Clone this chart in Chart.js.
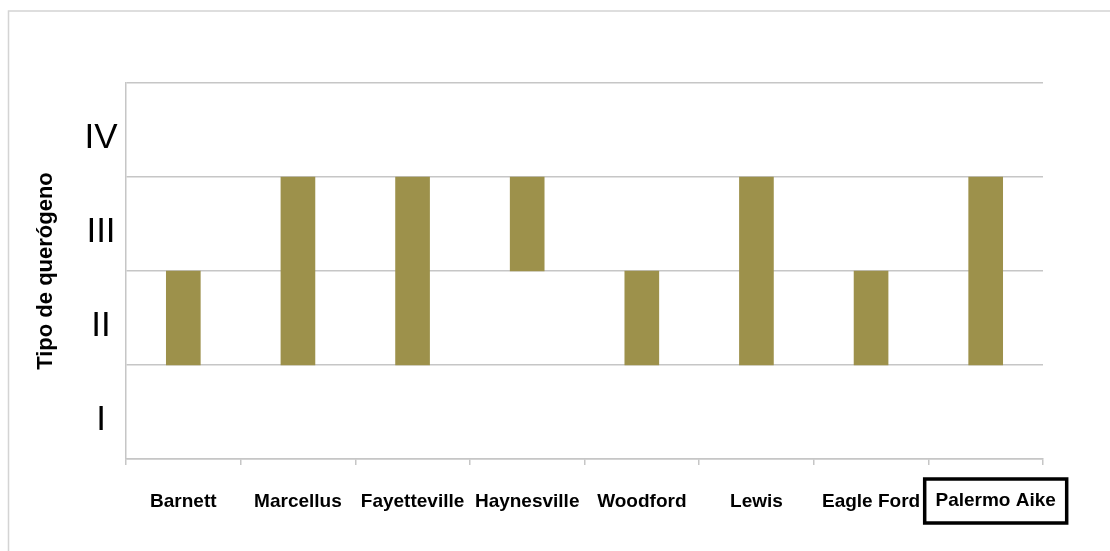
<!DOCTYPE html>
<html>
<head>
<meta charset="utf-8">
<script src="https://cdn.jsdelivr.net/npm/chart.js@4.4.0/dist/chart.umd.min.js"></script>
<style>
  html, body { margin: 0; padding: 0; background: #fff; }
  canvas { display: block; }
</style>
</head>
<body>
<canvas id="chart" width="1110" height="551"></canvas>
<script>
// Data: each bar spans a kerogen type range
const categories = ["Barnett", "Marcellus", "Fayetteville", "Haynesville", "Woodford", "Lewis", "Eagle Ford", "Palermo Aike"];
const rangeLow = [1, 1, 1, 2, 1, 1, 1, 1];
const rangeHigh = [2, 3, 3, 3, 2, 3, 2, 3];
const yTickLabels = ["I", "II", "III", "IV"];
const yTitle = "Tipo de querógeno";
const highlighted = "Palermo Aike";

const FONT = '"Liberation Sans", Arial, sans-serif';
const GRID = "#c6c6c6";

// Frame, roman numeral labels (centred in each band) and the boxed category
const decorations = {
  id: "decorations",
  beforeDraw(chart) {
    const ctx = chart.ctx;
    ctx.save();
    ctx.strokeStyle = "#d4d4d4";
    ctx.lineWidth = 1.5;
    ctx.beginPath();
    ctx.moveTo(8.5, chart.height);
    ctx.lineTo(8.5, 11);
    ctx.lineTo(chart.width, 11);
    ctx.stroke();
    ctx.restore();
  },
  afterDraw(chart) {
    const { ctx, chartArea, scales: { x, y } } = chart;
    ctx.save();
    ctx.fillStyle = "#000";
    ctx.textAlign = "center";
    ctx.textBaseline = "middle";
    ctx.font = "35px " + FONT;
    yTickLabels.forEach((t, i) => {
      ctx.fillText(t, 101, y.getPixelForValue(i + 0.5) + 8);
    });

    const idx = categories.indexOf(highlighted);
    const cx = x.getPixelForValue(idx) + 10;
    const cy = chartArea.bottom + 42;
    ctx.font = "bold 19px " + FONT;
    ctx.fillText(highlighted, cx, cy);
    ctx.lineWidth = 3.5;
    ctx.strokeStyle = "#000";
    ctx.strokeRect(cx - 71, cy - 22, 142, 44);
    ctx.restore();
  }
};

new Chart(document.getElementById("chart"), {
  type: "bar",
  data: {
    labels: categories,
    datasets: [{
      data: rangeLow.map((lo, i) => [lo, rangeHigh[i]]),
      backgroundColor: "#9d914b",
      borderWidth: 0,
      barThickness: 34,
    }],
  },
  options: {
    responsive: false,
    animation: false,
    devicePixelRatio: 1,
    layout: { padding: { top: 83, right: 67, bottom: 0, left: 0 } },
    plugins: {
      legend: { display: false },
      tooltip: { enabled: false },
    },
    scales: {
      x: {
        grid: { drawOnChartArea: false, drawTicks: true, tickLength: 6, color: GRID, lineWidth: 1.5, offset: true },
        border: { color: GRID, width: 1.5 },
        ticks: {
          color: "#000",
          font: { family: FONT, size: 19, weight: "bold" },
          padding: 25,
          maxRotation: 0,
          autoSkip: false,
          // the highlighted one is drawn with its box by the plugin
          callback: (v, i) => (categories[i] === highlighted ? "" : categories[i]),
        },
        afterFit(scale) { scale.height = 92; },
      },
      y: {
        min: 0,
        max: 4,
        ticks: { display: false, stepSize: 1 },
        grid: { color: GRID, lineWidth: 1.5, drawTicks: false },
        border: { display: true, color: GRID, width: 1.5 },
        title: {
          display: true,
          text: yTitle,
          color: "#000",
          font: { family: FONT, size: 22, weight: "bold" },
          padding: { top: 33, bottom: 0 },
        },
        afterFit(scale) { scale.width = 126; },
      },
    },
  },
  plugins: [decorations],
});
</script>
</body>
</html>
